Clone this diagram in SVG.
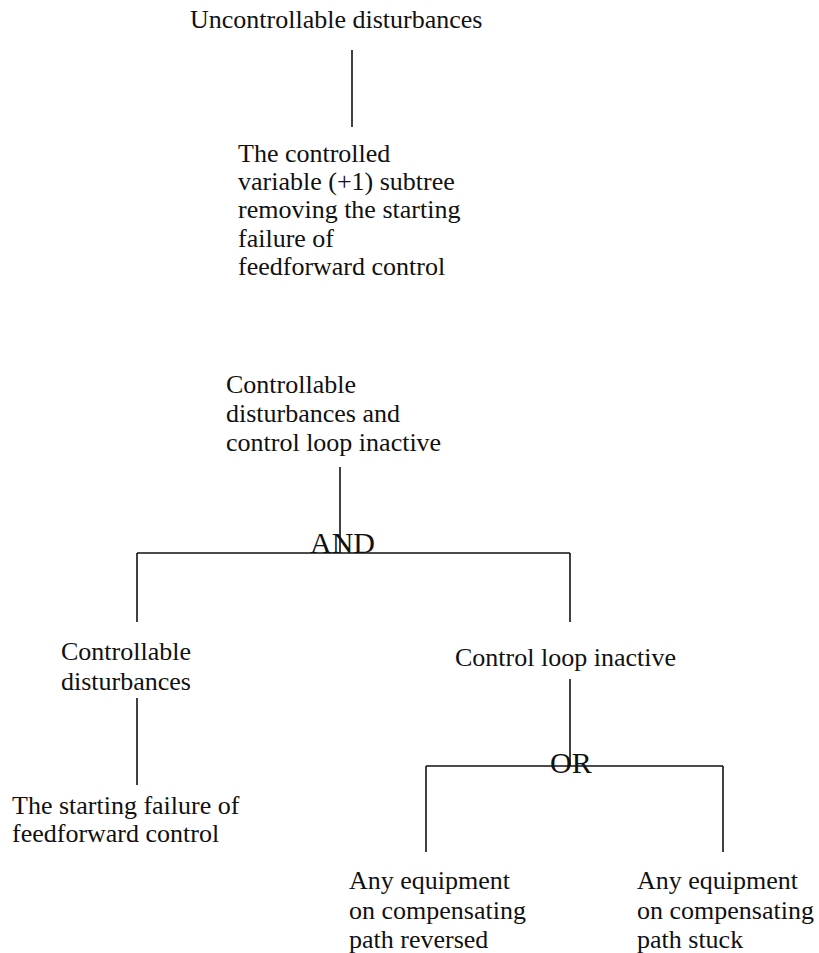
<svg xmlns="http://www.w3.org/2000/svg" width="819" height="953" viewBox="0 0 819 953">
<style>
text{font-family:"Liberation Serif","Times New Roman",serif;font-size:26px;fill:#111}
.gate{font-size:30px}
.c line{stroke:#111;stroke-width:1.6}
</style>
<rect width="819" height="953" fill="#fff"/>
<g class="c" id="connectors">
<line x1="352" y1="50" x2="352" y2="127"/>
<line x1="340" y1="467" x2="340" y2="553"/>
<line x1="137" y1="553" x2="570" y2="553"/>
<line x1="137" y1="553" x2="137" y2="622"/>
<line x1="570" y1="553" x2="570" y2="622"/>
<line x1="137" y1="698" x2="137" y2="785"/>
<line x1="570" y1="679" x2="570" y2="766"/>
<line x1="426" y1="766" x2="723" y2="766"/>
<line x1="426" y1="766" x2="426" y2="852"/>
<line x1="723" y1="766" x2="723" y2="852"/>
</g>
<g id="n-uncontrollable"><text x="190" y="28">Uncontrollable disturbances</text></g>
<g id="n-subtree"><text x="238" y="162">The controlled</text><text x="238" y="190">variable (+1) subtree</text><text x="238" y="218">removing the starting</text><text x="238" y="247">failure of</text><text x="238" y="275">feedforward control</text></g>
<g id="n-top"><text x="226" y="393">Controllable</text><text x="226" y="422">disturbances and</text><text x="226" y="451">control loop inactive</text></g>
<g id="g-and"><text class="gate" x="310" y="553">AND</text></g>
<g id="n-cd"><text x="61" y="660">Controllable</text><text x="61" y="690">disturbances</text></g>
<g id="n-ff"><text x="12" y="814">The starting failure of</text><text x="12" y="842">feedforward control</text></g>
<g id="n-cli"><text x="455" y="666">Control loop inactive</text></g>
<g id="g-or"><text class="gate" x="550" y="773">OR</text></g>
<g id="n-rev"><text x="349" y="889">Any equipment</text><text x="349" y="919">on compensating</text><text x="349" y="948">path reversed</text></g>
<g id="n-stuck"><text x="637" y="889">Any equipment</text><text x="637" y="919">on compensating</text><text x="637" y="948">path stuck</text></g>
</svg>
